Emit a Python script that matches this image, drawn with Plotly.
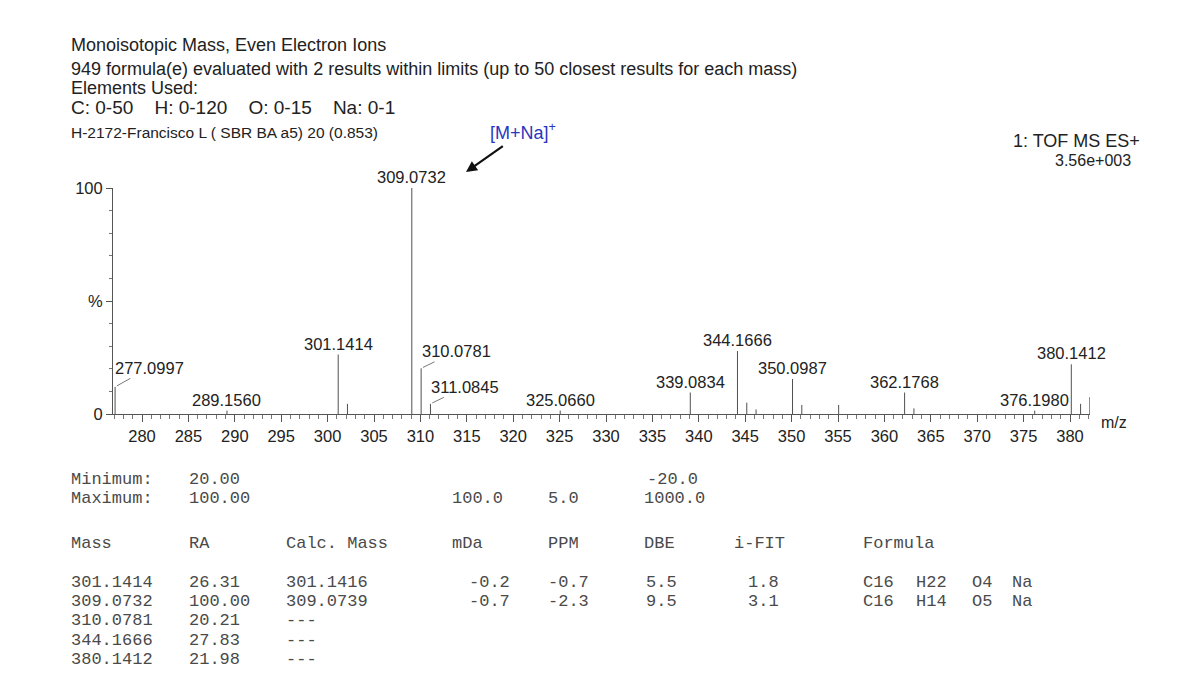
import plotly.graph_objects as go

# ---- spectrum data (m/z, relative abundance %) ----
peak_mz = [277.0997, 289.1560, 301.1414, 302.14, 309.0732, 310.0781, 311.0845,
           325.0660, 339.0834, 344.1666, 345.17, 346.17, 350.0987, 351.10,
           355.07, 362.1768, 363.18, 376.1980, 380.1412, 381.14, 382.14]
peak_ra = [12.0, 1.5, 26.31, 4.5, 100.0, 20.21, 4.5,
           1.5, 9.5, 27.83, 5.0, 2.0, 15.5, 4.0,
           4.0, 9.5, 2.5, 1.5, 21.98, 4.5, 7.5]

# peaks carrying a mass label
labelled_mz = [277.0997, 289.1560, 301.1414, 309.0732, 310.0781, 311.0845,
               325.0660, 339.0834, 344.1666, 350.0987, 362.1768, 376.1980, 380.1412]

x_ticks = list(range(280, 381, 5))

# ---- header text ----
header_lines = [
    "Monoisotopic Mass, Even Electron Ions",
    "949 formula(e) evaluated with 2 results within limits (up to 50 closest results for each mass)",
    "Elements Used:",
    "C: 0-50    H: 0-120    O: 0-15    Na: 0-1",
    "H-2172-Francisco L ( SBR BA a5) 20 (0.853)",
]
instrument = ["1: TOF MS ES+", "3.56e+003"]

# ---- elemental composition table ----
limit_min = ["Minimum:", "20.00", "", "", "", "-20.0", "", ""]
limit_max = ["Maximum:", "100.00", "", "100.0", "5.0", "1000.0", "", ""]
col_names = ["Mass", "RA", "Calc. Mass", "mDa", "PPM", "DBE", "i-FIT", "Formula"]
t_mass = ["301.1414", "309.0732", "310.0781", "344.1666", "380.1412"]
t_ra = ["26.31", "100.00", "20.21", "27.83", "21.98"]
t_calc = ["301.1416", "309.0739", "---", "---", "---"]
t_mda = ["-0.2", "-0.7", "", "", ""]
t_ppm = ["-0.7", "-2.3", "", "", ""]
t_dbe = ["5.5", "9.5", "", "", ""]
t_ifit = ["1.8", "3.1", "", "", ""]
f_c = ["C16", "C16", "", "", ""]
f_h = ["H22", "H14", "", "", ""]
f_o = ["O4", "O5", "", "", ""]
f_na = ["Na", "Na", "", "", ""]

# ---- page geometry (pixels) ----
W, H = 1194, 690
L, R, T, B = 113, 1090, 188, 414
XMIN, XMAX = 276.875, 382.155


def fx(p):
    return (p - L) / (R - L)


def fy(p):
    return (B - p) / (B - T)


SANS = "Liberation Sans"
MONO = "Liberation Mono"
INK = "#222"

fig = go.Figure()

# stick spectrum
xs, ys = [], []
for m, a in zip(peak_mz, peak_ra):
    xs += [m, m, None]
    ys += [0, a, None]
fig.add_trace(go.Scatter(x=xs, y=ys, mode="lines",
                         line=dict(color="#505050", width=1),
                         hoverinfo="skip", showlegend=False))

annotations = []

# peak labels
leader = {277.0997: (34, -19), 310.0781: (35, -17), 311.0845: (35, -17)}
ra_of = dict(zip(peak_mz, peak_ra))
for m in labelled_mz:
    a = ra_of[m]
    if m in leader:
        dx, dy = leader[m]
        annotations.append(dict(x=m, y=a, xref="x", yref="y", text=f"{m:.4f}",
                                showarrow=True, arrowhead=0, arrowwidth=0.8,
                                arrowcolor="#555", ax=dx, ay=dy, standoff=2,
                                font=dict(family=SANS, size=16.5, color=INK)))
    else:
        annotations.append(dict(x=m, y=a, xref="x", yref="y", text=f"{m:.4f}",
                                showarrow=False, yanchor="bottom", yshift=0,
                                font=dict(family=SANS, size=16.5, color=INK)))

# header lines
header_y = [45, 69, 88, 108, 132]
header_size = [18, 18, 18, 19, 15.5]
for txt, yy, sz in zip(header_lines, header_y, header_size):
    annotations.append(dict(x=fx(69), y=fy(yy), xref="paper", yref="paper",
                            text=txt, showarrow=False, xanchor="left", yanchor="middle",
                            font=dict(family=SANS, size=sz, color=INK)))

annotations.append(dict(x=fx(1142), y=fy(141), xref="paper", yref="paper",
                        text=instrument[0], showarrow=False, xanchor="right",
                        yanchor="middle", font=dict(family=SANS, size=18, color=INK)))
annotations.append(dict(x=fx(1133), y=fy(160), xref="paper", yref="paper",
                        text=instrument[1], showarrow=False, xanchor="right",
                        yanchor="middle", font=dict(family=SANS, size=16, color=INK)))

# [M+Na]+ callout with its arrow
annotations.append(dict(x=fx(466), y=fy(172), xref="paper", yref="paper",
                        text="[M+Na]<sup>+</sup>", showarrow=True,
                        arrowhead=2, arrowsize=1, arrowwidth=2.2, arrowcolor="#111",
                        ax=57, ay=-40, startstandoff=2,
                        font=dict(family=SANS, size=18, color="#2b35c0")))

# axis title
annotations.append(dict(x=fx(1099), y=fy(422), xref="paper", yref="paper",
                        text="m/z", showarrow=False, xanchor="left", yanchor="middle",
                        font=dict(family=SANS, size=16, color=INK)))

# table
col_x = [69, 187, 284, 450, 546, 642, 732, 861]
val_x = [69, 187, 284, 467, 546, 644, 746, 861]
formula_x = [861, 914, 970, 1010]


def cell(txt, xx, yy):
    if txt:
        annotations.append(dict(x=fx(xx), y=fy(yy), xref="paper", yref="paper",
                                text=txt.replace(" ", "&nbsp;"), showarrow=False,
                                xanchor="left", yanchor="middle",
                                font=dict(family=MONO, size=17, color="#4a4a4a")))


for i, txt in enumerate(limit_min):
    cell(txt, [69, 187, 284, 450, 546, 645, 732, 861][i], 479)
for i, txt in enumerate(limit_max):
    cell(txt, col_x[i], 498)
for i, txt in enumerate(col_names):
    cell(txt, col_x[i], 543)
row_y = [582, 601, 620, 640, 659]
for r in range(len(t_mass)):
    vals = [t_mass[r], t_ra[r], t_calc[r], t_mda[r], t_ppm[r], t_dbe[r], t_ifit[r]]
    for i, txt in enumerate(vals):
        cell(txt, val_x[i], row_y[r])
    for part, xx in zip([f_c[r], f_h[r], f_o[r], f_na[r]], formula_x):
        cell(part, xx, row_y[r])

fig.update_layout(
    width=W, height=H,
    margin=dict(l=L, r=W - R, t=T, b=H - B, pad=0),
    paper_bgcolor="white", plot_bgcolor="white",
    showlegend=False,
    annotations=annotations,
    xaxis=dict(range=[XMIN, XMAX], tickvals=x_ticks, ticktext=[str(v) for v in x_ticks],
               showgrid=False, zeroline=False, showline=True, linecolor="#555",
               linewidth=1, ticks="outside", ticklen=7, tickcolor="#555", tickwidth=1,
               minor=dict(dtick=1, tick0=280, ticks="outside", ticklen=4,
                          tickcolor="#777", showgrid=False),
               tickfont=dict(family=SANS, size=16.5, color=INK)),
    yaxis=dict(range=[0, 100], tickvals=[0, 50, 100], ticktext=["0", "%", "100"],
               showgrid=False, zeroline=False, showline=True, linecolor="#555",
               linewidth=1, ticks="outside", ticklen=6, tickcolor="#555",
               minor=dict(dtick=10, ticks="outside", ticklen=3, tickcolor="#777",
                          showgrid=False),
               tickfont=dict(family=SANS, size=16.5, color=INK)),
)

fig.write_html("out.html")
